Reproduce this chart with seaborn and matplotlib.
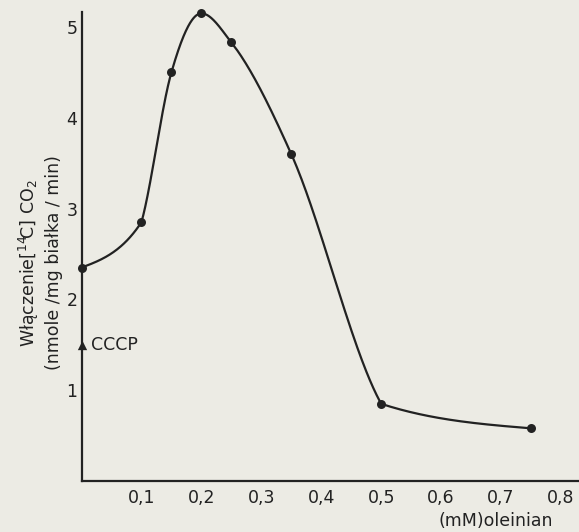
import numpy as np
import pandas as pd
import matplotlib
matplotlib.use("Agg")
import matplotlib.pyplot as plt
import seaborn as sns

# ---- data ----
oleate_mM = [0.0, 0.10, 0.15, 0.20, 0.25, 0.35, 0.50, 0.75]
co2_rate = [2.35, 2.85, 4.50, 5.15, 4.83, 3.60, 0.85, 0.58]
cccp_x = [0.0]
cccp_y = [1.50]
cccp_label = "CCCP"
x_ticks = [0.1, 0.2, 0.3, 0.4, 0.5, 0.6, 0.7, 0.8]
x_tick_labels = ["0,1", "0,2", "0,3", "0,4", "0,5", "0,6", "0,7", "0,8"]
y_ticks = [1, 2, 3, 4, 5]
y_tick_labels = ["1", "2", "3", "4", "5"]
y_label = "Włączenie$[^{14}\\!$C$]$ CO$_2$\n(nmole /mg białka / min)"
x_label = "(mM)oleinian"


def smooth_curve(x, y, n_per_seg=80, limit=2.0):
    """Render the hand-drawn smooth line through the measured points:
    piecewise cubic Hermite with Bessel tangents, limited per segment so
    that no segment overshoots (allows a sharp bend where the data turn)."""
    x = np.asarray(x, float)
    y = np.asarray(y, float)
    h = np.diff(x)
    d = np.diff(y) / h
    n = len(x)
    tang = np.zeros(n)
    for k in range(1, n - 1):
        if d[k - 1] * d[k] > 0:
            tang[k] = (h[k] * d[k - 1] + h[k - 1] * d[k]) / (h[k - 1] + h[k])
    xs_all, ys_all = [], []
    for k in range(n - 1):
        lim = limit * abs(d[k])
        m0 = np.clip(tang[k], -lim, lim)
        m1 = np.clip(tang[k + 1], -lim, lim)
        if k == 0:
            m0 = (3 * d[k] - m1) / 2
        if k == n - 2:
            m1 = (3 * d[k] - m0) / 2
        t = np.linspace(0, 1, n_per_seg)
        h00 = 2 * t**3 - 3 * t**2 + 1
        h10 = t**3 - 2 * t**2 + t
        h01 = -2 * t**3 + 3 * t**2
        h11 = t**3 - t**2
        xs_all.append(x[k] + t * h[k])
        ys_all.append(h00 * y[k] + h10 * h[k] * m0 + h01 * y[k + 1] + h11 * h[k] * m1)
    return np.concatenate(xs_all), np.concatenate(ys_all)


ink = "#222222"
bg = "#ecebe4"

sns.set_theme(style="white")
plt.rcParams["font.family"] = ["DejaVu Sans"]
plt.rcParams["mathtext.default"] = "regular"

fig = plt.figure(figsize=(5.79, 5.32), dpi=100, facecolor=bg)
ax = fig.add_axes([81.5 / 579, 51 / 532, (579 - 81.5) / 579, 469 / 532])
ax.set_facecolor(bg)

cx, cy = smooth_curve(oleate_mM, co2_rate)
curve = pd.DataFrame({"x": cx, "y": cy})
pts = pd.DataFrame({"x": oleate_mM, "y": co2_rate})
cccp = pd.DataFrame({"x": cccp_x, "y": cccp_y})

sns.lineplot(data=curve, x="x", y="y", ax=ax, color=ink, linewidth=1.6,
             sort=False, estimator=None, clip_on=False)
sns.scatterplot(data=pts, x="x", y="y", ax=ax, color=ink, s=42,
                edgecolor=ink, linewidth=0, clip_on=False, zorder=5)
sns.scatterplot(data=cccp, x="x", y="y", ax=ax, color=ink, marker="^", s=45,
                edgecolor=ink, linewidth=0, clip_on=False, zorder=5)
ax.annotate(cccp_label, (cccp_x[0], cccp_y[0]), xytext=(7, 0),
            textcoords="offset points", va="center", ha="left",
            fontsize=12.5, color=ink)

ax.set_xlim(0, 0.83)
ax.set_ylim(0, 5.165)
ax.set_xticks(x_ticks)
ax.set_xticklabels(x_tick_labels)
ax.set_yticks(y_ticks)
ax.set_yticklabels(y_tick_labels)
ax.set_xlabel("")
ax.set_ylabel("")

for s in ["top", "right"]:
    ax.spines[s].set_visible(False)
for s in ["left", "bottom"]:
    ax.spines[s].set_color(ink)
    ax.spines[s].set_linewidth(1.6)

ax.tick_params(axis="both", direction="in", length=6, width=1.4, color=ink,
               labelcolor=ink, labelsize=12.5)
ax.tick_params(axis="x", pad=6)
ax.tick_params(axis="y", pad=3)

fig.text(40 / 579, (532 - 263) / 532, y_label, rotation=90, ha="center",
         va="center", multialignment="center", fontsize=12.5, color=ink,
         linespacing=1.25)
fig.text(438 / 579, 6 / 532, x_label, ha="left", va="baseline",
         fontsize=12.5, color=ink)

fig.savefig("out.png", dpi=100, facecolor=bg)
